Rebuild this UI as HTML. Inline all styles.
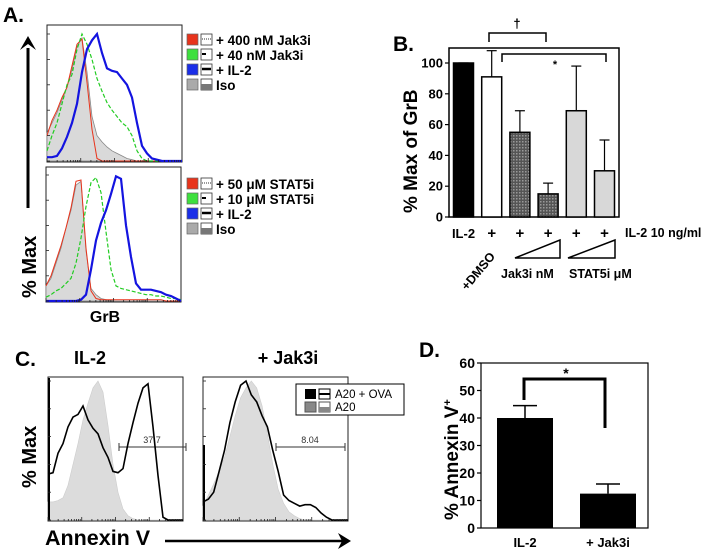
<!DOCTYPE html>
<html><head><meta charset="utf-8"><style>
body{margin:0;background:#fff}
svg{display:block;font-family:"Liberation Sans",Arial,sans-serif;font-weight:bold}
</style></head><body>
<svg id="fig" width="714" height="552" viewBox="0 0 714 552" xmlns="http://www.w3.org/2000/svg">
<g id="panelA">
<text x="3" y="22" font-size="21">A.</text>
<rect x="47" y="25" width="135" height="137" fill="none" stroke="#222" stroke-width="1"/>
<rect x="46" y="167" width="135" height="135" fill="none" stroke="#222" stroke-width="1"/>
<line x1="28" y1="48" x2="28" y2="208" stroke="#000" stroke-width="3"/>
<polygon points="20,50 28,36 36,50 28,44" fill="#000"/>
<text transform="translate(36,298) rotate(-90)" font-size="20">% Max</text>
<text x="105" y="322" font-size="16" text-anchor="middle">GrB</text>
</g>
<g id="panelB">
<text x="393" y="51" font-size="21">B.</text>
<text transform="translate(417,213) rotate(-90)" font-size="19">% Max of GrB</text>
<text x="625" y="237" font-size="12.5">IL-2 10 ng/ml</text>
<polygon points="515,258 560,240 560,258" fill="#fff" stroke="#000" stroke-width="1.5"/>
<polygon points="568,258 615,240 615,258" fill="#fff" stroke="#000" stroke-width="1.5"/>
<text x="501" y="278" font-size="12.5">Jak3i nM</text>
<text x="569" y="278" font-size="12.5">STAT5i μM</text>
<text transform="translate(467,291) rotate(-50)" font-size="12.5">+DMSO</text>
</g>
<g id="panelC">
<text x="15" y="366" font-size="21">C.</text>
<text x="90" y="364" font-size="18" text-anchor="middle">IL-2</text>
<text x="288" y="364" font-size="18" text-anchor="middle">+ Jak3i</text>
<rect x="48" y="377" width="135" height="144" fill="none" stroke="#222"/>
<rect x="203" y="377" width="145" height="144" fill="none" stroke="#222"/>
<text transform="translate(36,488) rotate(-90)" font-size="20">% Max</text>
<text x="45" y="545" font-size="21.5">Annexin V</text>
<line x1="165" y1="541" x2="343" y2="541" stroke="#000" stroke-width="2.5"/>
<polygon points="338,533 351,541 338,549 342,541" fill="#000"/>
<g>
<line x1="119" y1="447" x2="186" y2="447" stroke="#333"/><line x1="119" y1="443" x2="119" y2="451" stroke="#333"/><line x1="186" y1="443" x2="186" y2="451" stroke="#333"/>
<text x="152" y="443" font-size="9" text-anchor="middle" font-weight="normal" fill="#333">37.7</text></g>
<g>
<line x1="276" y1="447" x2="345" y2="447" stroke="#333"/><line x1="276" y1="443" x2="276" y2="451" stroke="#333"/><line x1="345" y1="443" x2="345" y2="451" stroke="#333"/>
<text x="310" y="443" font-size="9" text-anchor="middle" font-weight="normal" fill="#333">8.04</text></g>
<g>
<rect x="296" y="384" width="108" height="31" fill="#fff" stroke="#000"/>
<rect x="305" y="389" width="11" height="10" fill="#000"/>
<rect x="319" y="389" width="11" height="10" fill="#fff" stroke="#000"/><line x1="319" y1="394" x2="330" y2="394" stroke="#000" stroke-width="2"/>
<text x="335" y="398" font-size="11.5" font-weight="normal">A20 + OVA</text>
<rect x="305" y="402" width="11" height="10" fill="#888" stroke="#555"/>
<rect x="319" y="402" width="11" height="10" fill="#fff" stroke="#555"/><rect x="319" y="407" width="11" height="5" fill="#888"/>
<text x="335" y="411" font-size="11.5" font-weight="normal">A20</text>
</g>
</g>
<g id="panelD">
<text x="419" y="357" font-size="21">D.</text>
<text transform="translate(458,520) rotate(-90)" font-size="19">% Annexin V<tspan font-size="11" dy="-7">+</tspan></text>
</g>
</svg>
<script>
// ---------- Panel A histograms ----------
const histIsoTop   = [22,30,38,48,58,72,90,97,70,35,20,15,11,8,6,4,2,1,0,0,0,0,0,0,0,0,0,0];
const histRedTop   = [20,32,40,50,58,75,92,96,62,25,2,0,0,0,0,0,0,0,0,0,0,0,0,0,0,0,0,0];
const histGreenTop = [8,20,30,45,60,68,88,100,92,80,65,55,46,40,35,30,27,20,8,2,0,0,0,0,0,0,0,0];
const histBlueTop  = [3,3,4,10,19,30,45,70,88,95,100,85,73,71,70,65,60,50,30,12,6,2,1,0,0,0,0,0];
const histIsoBot   = [12,18,30,42,58,72,92,95,40,10,5,2,1,0,0,0,0,0,0,0,0,0,0,0,0,0,0,0];
const histRedBot   = [12,20,32,44,58,74,95,96,42,8,2,1,1,1,1,1,1,1,1,1,1,1,1,1,0,0,0,0];
const histGreenBot = [3,5,8,10,14,18,30,50,75,94,98,86,55,25,12,10,9,8,7,6,5,5,4,4,3,2,2,1];
const histBlueBot  = [0,0,0,0,0,0,0,1,5,25,48,62,72,85,99,97,60,35,14,9,9,9,8,7,5,4,2,0];
const legendTopLabels = ["+ 400 nM Jak3i","+ 40 nM Jak3i","+ IL-2","Iso"];
const legendBotLabels = ["+ 50 μM STAT5i","+ 10 μM STAT5i","+ IL-2","Iso"];
// ---------- Panel C histograms ----------
const histGrayIL2  = [13,13,14,16,25,40,55,72,84,95,100,92,68,40,20,8,3,1,0,0,0,0,0,0,0,0,0,0];
const histBlackIL2 = [33,34,48,55,67,74,76,82,72,66,62,52,45,35,34,37,55,70,84,95,98,67,32,2,0,0,0,0];
const histGrayJak  = [10,18,26,35,45,60,75,88,95,100,95,82,62,40,22,12,6,3,1,0,0,0,0,0,0,0,0,0];
const histBlackJak = [13,15,20,35,50,70,85,97,100,90,85,75,67,50,35,18,14,12,10,11,11,9,5,2,0,0,0,0];
// ---------- Panel B bars ----------
const bCategories = ["IL-2","+DMSO","Jak3i low","Jak3i high","STAT5i low","STAT5i high"];
const bValues = [100,91,55,15,69,30];
const bErrors = [100,108,69,22,98,50];
const bTicks = [0,20,40,60,80,100];
// ---------- Panel D bars ----------
const dCategories = ["IL-2","+ Jak3i"];
const dValues = [40,12.5];
const dErrors = [44.5,16];
const dTicks = [0,10,20,30,40,50,60];

const NS="http://www.w3.org/2000/svg";
const svg=document.getElementById('fig');
function mk(tag,attrs,parent){const e=document.createElementNS(NS,tag);for(const k in attrs)e.setAttribute(k,attrs[k]);(parent||svg).appendChild(e);return e;}

function histPath(data,x0,w,yb,h,closed){
  const n=data.length;const xs=i=>x0+w*i/(n-1);const ys=v=>yb-h*v/100;
  let d="";data.forEach((v,i)=>{d+=(i?"L":"M")+xs(i).toFixed(1)+","+ys(v).toFixed(1);});
  if(closed)d+="L"+(x0+w)+","+yb+"L"+x0+","+yb+"Z";
  return d;
}
function drawHist(data,box,style,name){
  const p=mk('path',Object.assign({d:histPath(data,box.x,box.w,box.yb,box.h,style.fill!=='none')},style));
  
  
}
function logTicks(x0,w,yb){
  for(let dec=0;dec<4;dec++)for(let k=1;k<10;k++){
    const x=x0+w*(dec+Math.log10(k))/4;const len=k===1?4:2;
    const t=mk('line',{x1:x,y1:yb,x2:x,y2:yb-len,stroke:'#222','stroke-width':0.8});
    
    
  }
}
function yTicksHist(x0,yb,h){
  for(let i=0;i<=5;i++){const y=yb-h*i/5;const t=mk('line',{x1:x0,y1:y,x2:x0+3,y2:y,stroke:'#222','stroke-width':0.8});
    
    }
}
const boxTop={x:47,w:135,yb:161,h:127};
const boxBot={x:46,w:135,yb:301,h:126};
[[boxTop,histIsoTop,histRedTop,histGreenTop,histBlueTop,'top'],[boxBot,histIsoBot,histRedBot,histGreenBot,histBlueBot,'bottom']].forEach(([b,iso,red,gr,bl,nm])=>{
  drawHist(iso,b,{fill:'#d9d9d9',stroke:'#888','stroke-width':0.8},'iso-'+nm);
  drawHist(red,b,{fill:'none',stroke:'#e8341c','stroke-width':1},'red-'+nm);
  drawHist(gr,b,{fill:'none',stroke:'#22cc22','stroke-width':1.2,'stroke-dasharray':'4,2'},'green-'+nm);
  drawHist(bl,b,{fill:'none',stroke:'#1414e0','stroke-width':2.2},'blue-'+nm);
  logTicks(b.x,b.w,b.yb+1);yTicksHist(b.x,b.yb,b.h);
});
function legendA(labels,y0){
  const cols=['#e8341c','#3ee03e','#1a2ee8','#aaaaaa'];
  labels.forEach((lab,i)=>{
    const y=y0+i*15;
    const s=mk('rect',{x:187,y:y-10,width:11,height:11,fill:cols[i],stroke:'#666','stroke-width':0.7});
    
    
    mk('rect',{x:201,y:y-10,width:11,height:11,fill:'#fff',stroke:'#333','stroke-width':0.8});
    if(i===0)mk('line',{x1:202,y1:y-5,x2:211,y2:y-5,stroke:'#333','stroke-dasharray':'1,1'});
    if(i===1)mk('line',{x1:202,y1:y-5,x2:206,y2:y-5,stroke:'#000','stroke-width':2});
    if(i===2)mk('line',{x1:202,y1:y-5,x2:211,y2:y-5,stroke:'#000','stroke-width':2.5});
    if(i===3)mk('rect',{x:201,y:y-5,width:11,height:6,fill:'#777'});
    const t=mk('text',{x:216,y:y+1,'font-size':13.5});t.textContent=lab;
    
    
  });
}
legendA(legendTopLabels,44);legendA(legendBotLabels,188);

const boxCL={x:48,w:135,yb:520,h:139};
const boxCR={x:203,w:145,yb:520,h:139};
drawHist(histGrayIL2,boxCL,{fill:'#dcdcdc',stroke:'#ccc','stroke-width':0.6},'a20-il2');
drawHist(histBlackIL2,boxCL,{fill:'none',stroke:'#000','stroke-width':1.6},'a20-ova-il2');
drawHist(histGrayJak,boxCR,{fill:'#dcdcdc',stroke:'#ccc','stroke-width':0.6},'a20-jak3i');
drawHist(histBlackJak,boxCR,{fill:'none',stroke:'#000','stroke-width':1.6},'a20-ova-jak3i');
mk('line',{x1:49,y1:378,x2:49,y2:520,stroke:'#000','stroke-width':2});
mk('line',{x1:204,y1:445,x2:204,y2:520,stroke:'#000','stroke-width':2});
logTicks(48,135,521);logTicks(203,145,521);yTicksHist(48,520,139);yTicksHist(203,520,139);

// ---------- Panel B ----------
const B={x0:449,x1:619,yTop:48,y0:217,y100:63};
const byS=v=>B.y0-(B.y0-B.y100)*v/100;
const bxS=i=>463.5+i*28.2;
mk('rect',{x:B.x0,y:B.yTop,width:B.x1-B.x0,height:B.y0-B.yTop,fill:'none',stroke:'#000','stroke-width':1.5});
const bFills=['#000','#fff','url(#hatch)','url(#hatch)','#d8d8d8','#d8d8d8'];
const defs=mk('defs',{});const pat=mk('pattern',{id:'hatch',width:3,height:3,patternUnits:'userSpaceOnUse'},defs);
mk('rect',{width:3,height:3,fill:'#555'},pat);mk('rect',{width:1.5,height:1.5,fill:'#999'},pat);
bValues.forEach((v,i)=>{
  const cx=bxS(i);
  const e=mk('line',{x1:cx,y1:byS(v),x2:cx,y2:byS(bErrors[i]),stroke:'#000','stroke-width':1.2});
  
  
  mk('line',{x1:cx-5,y1:byS(bErrors[i]),x2:cx+5,y2:byS(bErrors[i]),stroke:'#000','stroke-width':1.2});
  const r=mk('rect',{x:cx-10,y:byS(v),width:20,height:B.y0-byS(v),fill:bFills[i],stroke:'#000','stroke-width':1.5});
  
  
  const t=mk('text',{x:cx,y:238,'font-size':i===0?13:15,'text-anchor':'middle'});t.textContent=i===0?'IL-2':'+';
  
  
});
bTicks.forEach(v=>{
  const y=byS(v);mk('line',{x1:B.x0-4,y1:y,x2:B.x0,y2:y,stroke:'#000','stroke-width':1.2});
  const t=mk('text',{x:B.x0-6,y:y+4.5,'font-size':13,'text-anchor':'end'});t.textContent=v;
  
  
});
mk('path',{d:'M489,42V33H546V42',fill:'none',stroke:'#000','stroke-width':1.5});
const dg=mk('text',{x:517,y:28,'font-size':13,'text-anchor':'middle'});dg.textContent='†';
mk('path',{d:'M502,62V54H606V62',fill:'none',stroke:'#000','stroke-width':1.5});
const st=mk('text',{x:555,y:68,'font-size':11,'text-anchor':'middle'});st.textContent='*';

// ---------- Panel D ----------
const D={x0:481,x1:648,yTop:363,y0:528};
const dyS=v=>D.y0-(D.y0-D.yTop)*v/60;
const dxS=i=>525+i*83;
mk('rect',{x:D.x0,y:D.yTop,width:D.x1-D.x0,height:D.y0-D.yTop,fill:'none',stroke:'#000','stroke-width':1.2});
dValues.forEach((v,i)=>{
  const cx=dxS(i);
  mk('line',{x1:cx,y1:dyS(v),x2:cx,y2:dyS(dErrors[i]),stroke:'#000','stroke-width':1.5});
  mk('line',{x1:cx-12,y1:dyS(dErrors[i]),x2:cx+12,y2:dyS(dErrors[i]),stroke:'#000','stroke-width':1.5});
  const r=mk('rect',{x:cx-28,y:dyS(v),width:56,height:D.y0-dyS(v),fill:'#000'});
  
  
  const t=mk('text',{x:cx,y:547,'font-size':13,'text-anchor':'middle'});t.textContent=dCategories[i];
  
  
});
dTicks.forEach(v=>{
  const y=dyS(v);mk('line',{x1:D.x0-4,y1:y,x2:D.x0,y2:y,stroke:'#000','stroke-width':1.2});
  const t=mk('text',{x:D.x0-6,y:y+5,'font-size':14,'text-anchor':'end'});t.textContent=v;
  
  
});
mk('path',{d:'M524,400V379H605V428',fill:'none',stroke:'#000','stroke-width':3});
const sd=mk('text',{x:566,y:378,'font-size':14,'text-anchor':'middle'});sd.textContent='*';
</script>
</body></html>
